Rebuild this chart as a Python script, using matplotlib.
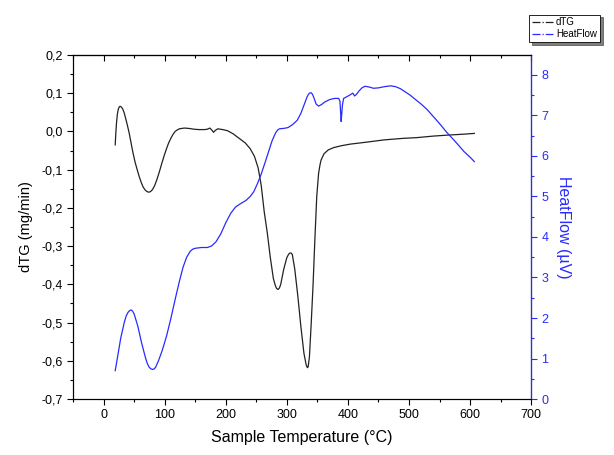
import numpy as np
import matplotlib
matplotlib.use('Agg')
import matplotlib.pyplot as plt
from matplotlib.ticker import MultipleLocator, FuncFormatter

plt.rcParams['font.family'] = ['Liberation Sans', 'DejaVu Sans']

# ===================== DATA =====================
temp_dtg = [19, 20, 21, 22.5, 24, 25.5, 27, 29, 31, 33.5, 36, 39, 42, 45, 48, 51.5, 55,
            58.5, 62, 65, 68, 71, 74, 77, 80, 83.5, 87, 91, 95, 99, 103, 106.5, 110,
            113.5, 117, 120.5, 124, 128, 132, 140, 148, 156, 165, 170, 174, 177, 180,
            183, 187, 195, 203, 212, 222, 232, 240, 247, 253, 258, 263, 268, 273,
            278, 281, 283, 285, 286, 288, 290, 295, 300, 303, 305, 307, 309, 313, 318,
            323, 328, 331, 332, 333, 334, 335, 337, 340, 343, 346, 349, 352, 354, 356,
            361, 368, 377, 390, 404, 430, 459, 490, 513, 540, 568, 590, 607]
dtg = [-0.035, -0.005, 0.020, 0.045, 0.058, 0.064, 0.066, 0.064, 0.060, 0.050, 0.035,
       0.016, -0.005, -0.030, -0.055, -0.080, -0.100, -0.119, -0.135, -0.146, -0.153,
       -0.157, -0.159, -0.157, -0.152, -0.142, -0.127, -0.107, -0.085, -0.064, -0.045,
       -0.030, -0.018, -0.008, 0.000, 0.004, 0.007, 0.008, 0.009, 0.008, 0.006, 0.005,
       0.005, 0.006, 0.009, 0.004, -0.002, 0.003, 0.007, 0.005, 0.002, -0.006, -0.018,
       -0.030, -0.045, -0.065, -0.095, -0.140, -0.210, -0.265, -0.330, -0.385, -0.402,
       -0.410, -0.413, -0.413, -0.409, -0.400, -0.360, -0.330, -0.321, -0.318, -0.318,
       -0.322, -0.360, -0.430, -0.510, -0.580, -0.605, -0.612, -0.616, -0.618, -0.615,
       -0.590, -0.500, -0.400, -0.280, -0.170, -0.110, -0.090, -0.075, -0.058, -0.048,
       -0.042, -0.037, -0.033, -0.028, -0.022, -0.018, -0.016, -0.012, -0.009, -0.007,
       -0.005]

temp_hf = [19, 23, 28, 34, 37, 40, 42.5, 45, 47.5, 50, 56, 62, 68, 71, 74, 77, 80, 82.5,
           85, 90, 96, 103, 110, 117, 124, 130, 136, 142, 146, 150, 160, 170, 177, 184,
           192, 200, 208, 216, 225, 233, 240, 246, 252, 258, 264, 270, 276, 282, 285,
           288, 295, 302, 310, 317, 323, 328, 333, 335, 337, 340, 342, 344, 348, 352,
           357, 362, 370, 378, 385, 387, 388, 389, 390, 391, 393, 398, 404, 408, 411,
           414, 418, 423, 428, 435, 442, 450, 460, 470, 478, 486, 494, 502, 510, 520,
           530, 540, 550, 562, 575, 590, 600, 607]
heatflow = [0.70, 1.05, 1.50, 1.90, 2.05, 2.14, 2.18, 2.20, 2.17, 2.10, 1.80, 1.40,
            1.05, 0.90, 0.80, 0.75, 0.73, 0.74, 0.78, 0.95, 1.20, 1.55, 1.98, 2.45, 2.90,
            3.25, 3.50, 3.65, 3.70, 3.72, 3.74, 3.74, 3.78, 3.88, 4.08, 4.35, 4.58, 4.74,
            4.83, 4.90, 5.00, 5.12, 5.32, 5.55, 5.82, 6.10, 6.38, 6.58, 6.64, 6.67, 6.68,
            6.70, 6.78, 6.88, 7.05, 7.25, 7.45, 7.51, 7.55, 7.56, 7.52, 7.45, 7.28, 7.23,
            7.27, 7.33, 7.39, 7.42, 7.42, 7.35, 7.10, 6.85, 7.05, 7.25, 7.42, 7.46, 7.51,
            7.55, 7.48, 7.52, 7.60, 7.68, 7.72, 7.70, 7.67, 7.68, 7.71, 7.73, 7.71, 7.66,
            7.58, 7.50, 7.40, 7.28, 7.14, 6.97, 6.80, 6.58, 6.37, 6.11, 5.97, 5.86]

# ===================== PLOT =====================
blue = '#2a2aff'
fig = plt.figure(figsize=(6.14, 4.55), dpi=100)
ax = fig.add_axes([0.119, 0.123, 0.746, 0.756])
ax2 = ax.twinx()

l1, = ax.plot(temp_dtg, dtg, color='#222222', lw=0.9)
l2, = ax2.plot(temp_hf, heatflow, color=blue, lw=0.9)

ax.set_xlim(-50, 700)
ax.set_ylim(-0.7, 0.2)
ax2.set_ylim(0, 8.49)

ax.xaxis.set_major_locator(MultipleLocator(100))
ax.xaxis.set_minor_locator(MultipleLocator(50))
ax.yaxis.set_major_locator(MultipleLocator(0.1))
ax.yaxis.set_minor_locator(MultipleLocator(0.05))
ax.yaxis.set_major_formatter(FuncFormatter(lambda v, p: f"{v:.1f}".replace('.', ',')))
ax2.yaxis.set_major_locator(MultipleLocator(1))
ax2.yaxis.set_minor_locator(MultipleLocator(0.5))

ax.tick_params(axis='both', which='major', direction='out', length=4, width=0.8, labelsize=9)
ax.tick_params(axis='both', which='minor', direction='out', length=2.5, width=0.8)

# top ticks pointing inward
top = ax.secondary_xaxis('top')
top.xaxis.set_major_locator(MultipleLocator(100))
top.xaxis.set_minor_locator(MultipleLocator(50))
top.tick_params(which='major', direction='in', length=4, width=0.8, labeltop=False)
top.tick_params(which='minor', direction='in', length=2.5, width=0.8)

ax2.tick_params(axis='y', which='major', colors=blue, length=4, width=0.8, labelsize=9)
ax2.tick_params(axis='y', which='minor', colors=blue, length=2.5, width=0.8)
ax2.spines['right'].set_color(blue)
ax2.spines['right'].set_linewidth(0.9)

ax.set_xlabel('Sample Temperature (°C)', fontsize=11.5, labelpad=6)
ax.set_ylabel('dTG (mg/min)', fontsize=10.5, labelpad=6)
ax2.set_ylabel('HeatFlow (µV)', fontsize=11.5, color=blue, rotation=270, labelpad=16)

leg = fig.legend([l1, l2], ['dTG', 'HeatFlow'], loc='upper right',
                 bbox_to_anchor=(0.977, 0.968), fontsize=7, frameon=True,
                 fancybox=False, shadow={'color': 'black'}, framealpha=1,
                 edgecolor='black', handlelength=2.2, borderpad=0.3,
                 labelspacing=0.2, handletextpad=0.3, borderaxespad=0)
leg.get_frame().set_linewidth(0.6)
for h in leg.legend_handles:
    h.set_linestyle('-.')

fig.savefig('out.png', dpi=100)
